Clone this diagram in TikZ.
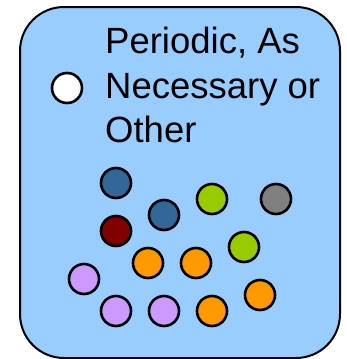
\documentclass[tikz,border=0pt]{standalone}
\usepackage{fontspec}
\setmainfont{Liberation Sans}
\definecolor{boxblue}{HTML}{99CCFF}
\definecolor{dblue}{HTML}{336699}
\definecolor{lgreen}{HTML}{99CC00}
\definecolor{mgray}{HTML}{808080}
\definecolor{dred}{HTML}{800000}
\definecolor{orng}{HTML}{FF9900}
\definecolor{lpurple}{HTML}{CC99FF}
\begin{document}
\begin{tikzpicture}[x=1pt,y=-1pt,
  dot/.style={circle,draw=black,line width=2.6pt,minimum size=30pt,inner sep=0pt},
  label/.style={anchor=base west,inner sep=0pt,font=\fontsize{36.5}{44}\selectfont}]
\useasboundingbox (0,0) rectangle (347,359);
\draw[fill=boxblue,line width=2pt,rounded corners=44pt] (20,7) rectangle (340,358);
\node[dot,fill=white] (w) at (67,88) {};
\node[label] (t1) at (105,53) {Periodic, As};
\node[label] (t2) at (105,98) {Necessary or};
\node[label] (t3) at (105,142) {Other};
\node[dot,fill=dblue] (b1) at (116,183) {};
\node[dot,fill=dblue] (b2) at (164,215) {};
\node[dot,fill=lgreen] (g1) at (212,199) {};
\node[dot,fill=mgray] (gr) at (276,199) {};
\node[dot,fill=dred] (r1) at (116,231) {};
\node[dot,fill=lgreen] (g2) at (244,247) {};
\node[dot,fill=orng] (o1) at (148,263) {};
\node[dot,fill=orng] (o2) at (196,263) {};
\node[dot,fill=lpurple] (p1) at (84,279) {};
\node[dot,fill=lpurple] (p2) at (116,311) {};
\node[dot,fill=lpurple] (p3) at (164,311) {};
\node[dot,fill=orng] (o3) at (212,311) {};
\node[dot,fill=orng] (o4) at (260,295) {};
\end{tikzpicture}
\end{document}
